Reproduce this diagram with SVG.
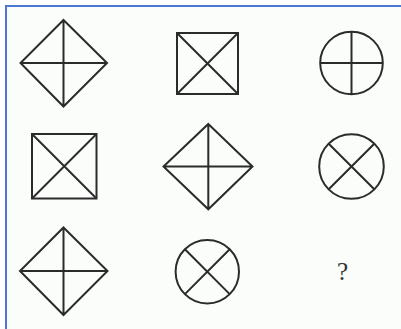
<svg xmlns="http://www.w3.org/2000/svg" width="401" height="329" viewBox="0 0 401 329">
<style>
.s{fill:none;stroke:#2b2b2b;stroke-width:2;stroke-linejoin:miter}
.t{font-family:"Liberation Serif",serif;font-size:25px;fill:#333}
</style>
<rect width="401" height="329" fill="#ffffff"/>
<rect x="6" y="6" width="395" height="323" fill="#fbfdfb"/>
<path d="M6,329V6H401" fill="none" stroke="#4a78d8" stroke-width="2"/>
<g id="r1c1" class="s"><path d="M63.5,20L107,63L63.5,106.5L20.5,63Z M63.5,20V106.5 M20.5,63H107"/></g>
<g id="r1c2" class="s"><rect x="177" y="33" width="61" height="61"/><path d="M177,33L238,94M238,33L177,94"/></g>
<g id="r1c3" class="s"><circle cx="351.5" cy="63" r="31.3"/><path d="M351.5,31.7V94.3M320.2,63H382.8"/></g>
<g id="r2c1" class="s"><rect x="32" y="134" width="64.5" height="64.5"/><path d="M32,134L96.5,198.5M96.5,134L32,198.5"/></g>
<g id="r2c2" class="s"><path d="M208.3,124L252.5,166.5L208.3,209.3L163.5,166.5Z M208.3,124V209.3 M163.5,166.5H252.5"/></g>
<g id="r2c3" class="s"><circle cx="351.5" cy="166.5" r="32.3"/><path d="M328.7,143.7L374.3,189.3M374.3,143.7L328.7,189.3"/></g>
<g id="r3c1" class="s"><path d="M63.5,227.5L107.5,271L63.5,315L20,271Z M63.5,227.5V315 M20,271H107.5"/></g>
<g id="r3c2" class="s"><circle cx="207.3" cy="271.7" r="31.7"/><path d="M184.9,249.3L229.7,294.1M229.7,249.3L184.9,294.1"/></g>
<g id="r3c3"><text class="t" x="342.5" y="280" text-anchor="middle">?</text></g>
</svg>
